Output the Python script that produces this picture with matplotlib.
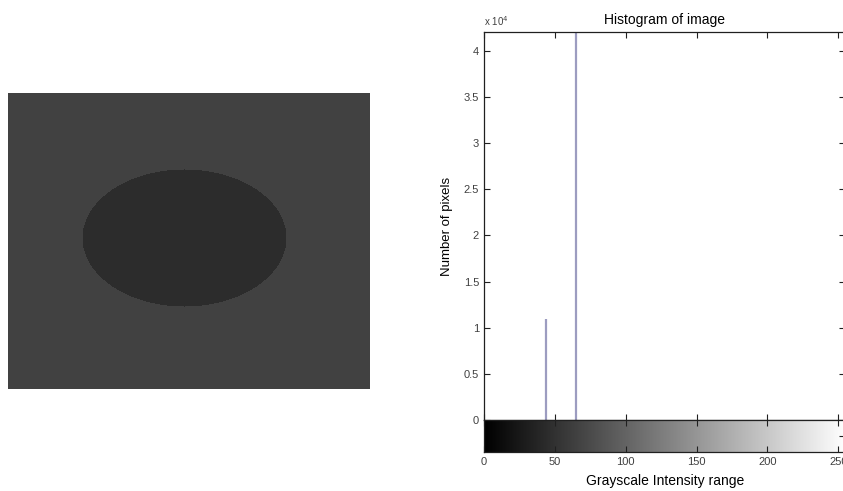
import numpy as np
import matplotlib
matplotlib.use("Agg")
import matplotlib.pyplot as plt
from matplotlib.ticker import FuncFormatter

plt.rcParams['font.family'] = ['Liberation Sans', 'DejaVu Sans']

# histogram data
intensity = [44, 65]
pixel_count = [10950, 43500]

# grey levels of the test image
background_level = 65
ellipse_level = 44
y_ticks = [0, 5000, 10000, 15000, 20000, 25000, 30000, 35000, 40000]
x_ticks = [0, 50, 100, 150, 200, 250]


def make_test_image(h=296, w=362):
    yy, xx = np.mgrid[:h, :w]
    cy, cx, ry, rx = 144.5, 176, 68.5, 102
    inside = ((xx - cx) / rx) ** 2 + ((yy - cy) / ry) ** 2 <= 1
    img = np.full((h, w), background_level, dtype=float)
    img[inside] = ellipse_level
    return img


fig = plt.figure(figsize=(8.43, 4.91), dpi=100)

# left: the image itself
ax_img = fig.add_axes([8 / 843, 102 / 491, 362 / 843, 296 / 491])
ax_img.imshow(make_test_image(), cmap='gray', vmin=0, vmax=255,
              aspect='auto', interpolation='antialiased')
ax_img.axis('off')

# right: histogram (axes runs a little past the right edge like the original)
left = 484 / 843
width = 361.4 / 843
ax = fig.add_axes([left, 71 / 491, width, 387.7 / 491])
ax.vlines(intensity, 0, pixel_count, color='#9c9cc0', linewidth=1.6)
ax.set_xlim(0, 255)
ax.set_ylim(0, 42000)
ax.set_yticks(y_ticks)
ax.yaxis.set_major_formatter(FuncFormatter(lambda v, p: f"{v / 1e4:g}"))
ax.set_xticks(x_ticks)
ax.set_xticklabels([])
ax.tick_params(direction='in', length=4, top=True, right=True,
               labelsize=8, labelcolor='#404040', color='#202020')
for s in ax.spines.values():
    s.set_color('#202020')
    s.set_linewidth(0.9)
ax.set_title("Histogram of image", fontsize=10, pad=6)
ax.set_ylabel("Number of pixels", fontsize=9.5, labelpad=8)
ax.text(0.0, 1.012, r"x 10$^4$", transform=ax.transAxes, fontsize=7,
        color='#404040', ha='left', va='bottom')

# colour bar under the histogram
cb = fig.add_axes([left, 39 / 491, width, 32 / 491])
gradient = np.linspace(0, 255, 256)[None, :]
cb.imshow(gradient, cmap='gray', vmin=0, vmax=255, aspect='auto',
          extent=[0, 255, 0, 1])
cb.set_xlim(0, 255)
cb.set_xticks(x_ticks)
cb.set_yticks([0.5])
cb.set_yticklabels([])
cb.tick_params(direction='in', length=4, top=True, right=True, left=False,
               labelsize=8, labelcolor='#404040', color='#202020')
for s in cb.spines.values():
    s.set_color('#202020')
    s.set_linewidth(0.9)
cb.set_xlabel("Grayscale Intensity range", fontsize=10, labelpad=5)

fig.savefig("out.png", dpi=100)
